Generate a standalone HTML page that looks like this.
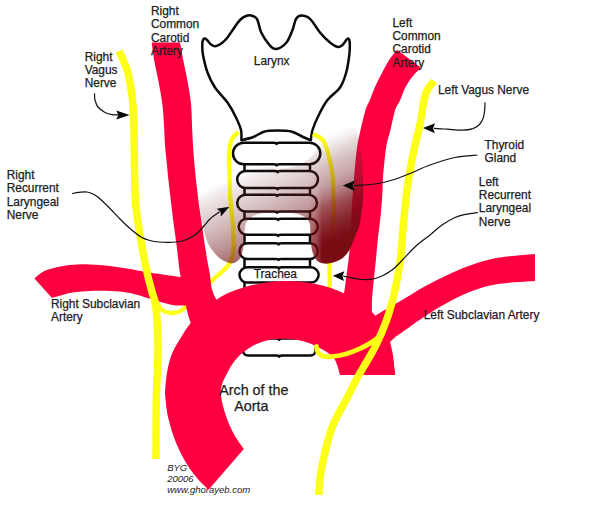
<!DOCTYPE html>
<html><head><meta charset="utf-8"><title>Recurrent laryngeal nerve anatomy</title>
<style>html,body{margin:0;padding:0;background:#fff}svg{display:block}</style></head>
<body><svg width="600" height="519" viewBox="0 0 600 519">
<defs>
<linearGradient id="tg" gradientUnits="userSpaceOnUse" x1="230" y1="178.5" x2="270.8" y2="269.1">
<stop offset="0.000" stop-color="#70262a" stop-opacity="0.00"/>
<stop offset="0.073" stop-color="#70262a" stop-opacity="0.08"/>
<stop offset="0.211" stop-color="#70262a" stop-opacity="0.18"/>
<stop offset="0.349" stop-color="#712227" stop-opacity="0.27"/>
<stop offset="0.495" stop-color="#731e23" stop-opacity="0.38"/>
<stop offset="0.642" stop-color="#75191f" stop-opacity="0.50"/>
<stop offset="0.789" stop-color="#771219" stop-opacity="0.66"/>
<stop offset="0.945" stop-color="#7a0c14" stop-opacity="0.80"/>
<stop offset="1.000" stop-color="#7a0c14" stop-opacity="0.85"/>
</linearGradient>
<linearGradient id="tg2" gradientUnits="userSpaceOnUse" x1="230" y1="178.5" x2="270.8" y2="269.1">
<stop offset="0.000" stop-color="#70262a" stop-opacity="0.00"/>
<stop offset="0.083" stop-color="#70262a" stop-opacity="0.07"/>
<stop offset="0.193" stop-color="#70262a" stop-opacity="0.20"/>
<stop offset="0.294" stop-color="#712126" stop-opacity="0.30"/>
<stop offset="0.404" stop-color="#731e23" stop-opacity="0.38"/>
<stop offset="0.477" stop-color="#741b20" stop-opacity="0.45"/>
<stop offset="0.560" stop-color="#76151c" stop-opacity="0.57"/>
<stop offset="0.642" stop-color="#781017" stop-opacity="0.70"/>
<stop offset="0.734" stop-color="#7a0c14" stop-opacity="0.80"/>
<stop offset="0.826" stop-color="#7a0c14" stop-opacity="0.88"/>
<stop offset="0.917" stop-color="#7a0c14" stop-opacity="0.95"/>
<stop offset="1.000" stop-color="#7a0c14" stop-opacity="1.00"/>
</linearGradient>
<linearGradient id="ml" gradientUnits="userSpaceOnUse" x1="300" y1="0" x2="322" y2="0"><stop offset="0" stop-color="#fff"/><stop offset="1" stop-color="#000"/></linearGradient>
<linearGradient id="mr" gradientUnits="userSpaceOnUse" x1="300" y1="0" x2="322" y2="0"><stop offset="0" stop-color="#000"/><stop offset="1" stop-color="#fff"/></linearGradient>
<mask id="cl" maskUnits="userSpaceOnUse" x="150" y="100" width="260" height="200"><rect x="150" y="100" width="260" height="200" fill="url(#ml)"/></mask>
<mask id="cr" maskUnits="userSpaceOnUse" x="150" y="100" width="260" height="200"><rect x="150" y="100" width="260" height="200" fill="url(#mr)"/></mask>
</defs>
<rect width="600" height="519" fill="#fff"/>
<g font-family="'Liberation Sans', Arial, sans-serif" fill="#1c1c1c"><text x="167.2" y="471.4" font-size="9.5" font-style="italic">BYG</text><text x="167.2" y="482.0" font-size="9.5" font-style="italic">20006</text><text x="167.2" y="492.5" font-size="9.5" font-style="italic">www.ghorayeb.com</text></g>
<g fill="#fff" stroke="#0a0a0a" stroke-width="2.5" stroke-linejoin="round" stroke-linecap="round">
<g fill="none"><path d="M244.5 164.2V171.0M310 164.2V171.0"/><path d="M244.5 188.0V194.7M310 188.0V194.7"/><path d="M244.5 211.5V218.7M310 211.5V218.7"/><path d="M244.5 234.8V243.2M310 234.8V243.2"/><path d="M244.5 258.9V267.3M310 258.9V267.3"/><path d="M244.5 282.6V300.0M310 282.6V300.0"/><path d="M244.5 325.0V338.5M310 325.0V338.5"/></g>
<path d="M243.7 142.8L273.6 142.8Q276.6 142.8 276.6 144.0Q276.6 142.8 279.6 142.8L309.6 142.8C315.5 142.8 320.3 147.6 320.3 153.5L320.3 153.5C320.3 159.4 315.5 164.2 309.6 164.2L279.6 164.2Q276.6 164.2 276.6 165.4Q276.6 164.2 273.6 164.2L243.7 164.2C237.8 164.2 233.0 159.4 233.0 153.5L233.0 153.5C233.0 147.6 237.8 142.8 243.7 142.8Z"/><path d="M245.7 171.0L274.6 171.0Q277.6 171.0 277.6 172.2Q277.6 171.0 280.6 171.0L309.5 171.0C314.2 171.0 318.0 174.8 318.0 179.5L318.0 179.5C318.0 184.2 314.2 188.0 309.5 188.0L280.6 188.0Q277.6 188.0 277.6 189.2Q277.6 188.0 274.6 188.0L245.7 188.0C241.0 188.0 237.2 184.2 237.2 179.5L237.2 179.5C237.2 174.8 241.0 171.0 245.7 171.0Z"/><path d="M245.6 194.7L274.1 194.7Q277.1 194.7 277.1 195.9Q277.1 194.7 280.1 194.7L308.6 194.7C313.2 194.7 317.0 198.5 317.0 203.1L317.0 203.1C317.0 207.7 313.2 211.5 308.6 211.5L280.1 211.5Q277.1 211.5 277.1 212.7Q277.1 211.5 274.1 211.5L245.6 211.5C241.0 211.5 237.2 207.7 237.2 203.1L237.2 203.1C237.2 198.5 241.0 194.7 245.6 194.7Z"/><path d="M246.8 218.7L275.2 218.7Q278.2 218.7 278.2 219.9Q278.2 218.7 281.2 218.7L309.8 218.7C314.2 218.7 317.8 222.3 317.8 226.8L317.8 226.8C317.8 231.2 314.2 234.8 309.8 234.8L281.2 234.8Q278.2 234.8 278.2 236.0Q278.2 234.8 275.2 234.8L246.8 234.8C242.3 234.8 238.7 231.2 238.7 226.8L238.7 226.8C238.7 222.3 242.3 218.7 246.8 218.7Z"/><path d="M247.3 243.2L275.6 243.2Q278.6 243.2 278.6 244.4Q278.6 243.2 281.6 243.2L310.0 243.2C314.3 243.2 317.8 246.7 317.8 251.0L317.8 251.0C317.8 255.4 314.3 258.9 310.0 258.9L281.6 258.9Q278.6 258.9 278.6 260.1Q278.6 258.9 275.6 258.9L247.3 258.9C243.0 258.9 239.5 255.4 239.5 251.0L239.5 251.0C239.5 246.7 243.0 243.2 247.3 243.2Z"/><path d="M247.2 267.3L276.1 267.3Q279.1 267.3 279.1 268.5Q279.1 267.3 282.1 267.3L311.0 267.3C315.2 267.3 318.6 270.7 318.6 275.0L318.6 275.0C318.6 279.2 315.2 282.6 311.0 282.6L282.1 282.6Q279.1 282.6 279.1 283.8Q279.1 282.6 276.1 282.6L247.2 282.6C242.9 282.6 239.5 279.2 239.5 275.0L239.5 275.0C239.5 270.7 242.9 267.3 247.2 267.3Z"/><path d="M248.0 338.5L276.2 338.5Q279.2 338.5 279.2 339.7Q279.2 338.5 282.2 338.5L310.5 338.5C313.3 338.5 315.5 340.7 315.5 343.5L315.5 350.6C315.5 353.4 313.3 355.6 310.5 355.6L282.2 355.6Q279.2 355.6 279.2 356.8Q279.2 355.6 276.2 355.6L248.0 355.6C245.2 355.6 243.0 353.4 243.0 350.6L243.0 343.5C243.0 340.7 245.2 338.5 248.0 338.5Z"/>
<path d="M241.4 140.3C241.3 138.6 241.9 133.8 241.0 130.0C240.1 126.2 238.2 122.1 236.0 117.5C233.8 112.9 231.0 107.5 227.5 102.5C224.0 97.5 218.3 92.5 215.0 87.5C211.7 82.5 209.5 77.9 207.5 72.5C205.5 67.1 203.9 59.6 203.0 55.0C202.1 50.4 202.3 47.5 202.3 45.0C202.3 42.5 202.6 41.1 203.0 40.0C203.4 38.9 204.2 38.5 205.0 38.6C205.8 38.7 206.5 39.5 207.5 40.5C208.5 41.5 209.7 43.5 211.0 44.5C212.3 45.5 213.7 46.5 215.5 46.3C217.3 46.0 220.0 44.5 222.0 43.0C224.0 41.5 225.5 40.0 227.5 37.5C229.5 35.0 231.9 30.9 234.0 28.0C236.1 25.1 238.0 22.0 240.0 20.0C242.0 18.0 244.1 16.8 246.0 16.0C247.9 15.2 249.4 15.0 251.2 15.5C253.1 16.0 255.3 16.2 257.0 19.0C258.7 21.8 259.2 28.2 261.2 32.5C263.3 36.8 267.0 42.2 269.5 45.0C272.0 47.8 273.4 49.4 276.2 49.0C279.1 48.6 283.8 45.7 286.5 42.5C289.2 39.3 290.9 33.9 292.5 30.0C294.1 26.1 294.5 21.4 296.0 19.0C297.5 16.6 298.9 15.5 301.2 15.5C303.6 15.5 306.9 15.9 310.0 18.8C313.1 21.6 316.7 28.5 320.0 32.5C323.3 36.5 327.0 40.1 330.0 42.5C333.0 44.9 335.9 46.6 338.0 47.0C340.1 47.4 341.2 46.0 342.5 45.0C343.8 44.0 344.7 42.1 345.5 41.0C346.3 39.9 346.9 38.8 347.5 38.6C348.1 38.4 348.9 38.9 349.3 40.0C349.7 41.1 349.8 42.5 349.8 45.0C349.8 47.5 349.9 50.4 349.3 55.0C348.7 59.6 347.8 67.1 346.2 72.5C344.7 77.9 343.1 82.9 340.0 87.5C336.9 92.1 331.0 95.4 327.5 100.0C324.0 104.6 321.2 110.0 318.8 115.0C316.2 120.0 313.8 125.8 312.5 130.0C311.2 134.2 311.1 138.6 310.8 140.3L310.8 140.3C309.5 139.8 306.1 138.4 303.0 137.0C299.9 135.6 296.3 132.8 292.0 131.7C287.7 130.6 281.7 130.6 277.0 130.6C272.3 130.6 267.9 130.6 264.0 131.7C260.1 132.8 257.1 135.6 253.3 137.0C249.5 138.4 243.4 139.8 241.4 140.3Z"/>
</g>
<g fill="none" stroke="#fdff16" stroke-width="4.4">
<path d="M156.0 298.0C156.3 299.0 156.9 301.9 158.0 304.0C159.1 306.1 160.1 309.0 162.5 310.5C164.9 312.0 169.2 313.1 172.5 313.0C175.8 312.9 179.6 311.8 182.5 310.0C185.4 308.2 186.8 305.0 190.0 302.0C193.2 299.0 197.8 295.6 201.5 292.0C205.2 288.4 209.1 283.5 212.5 280.2C215.9 276.9 219.1 274.5 221.8 272.0C224.5 269.5 226.8 267.5 228.5 265.0C230.2 262.5 231.5 259.8 232.3 257.0C233.1 254.2 233.4 253.2 233.5 248.0C233.6 242.8 233.4 232.7 233.0 226.0C232.6 219.3 231.5 214.0 231.0 208.0C230.5 202.0 230.2 195.5 230.0 190.0C229.8 184.5 229.7 181.2 229.5 175.0C229.3 168.8 228.6 159.0 229.0 153.0C229.4 147.0 230.4 142.5 232.0 139.0C233.6 135.5 237.4 133.2 238.5 132.0"/>
<path d="M316.5 346.5C317.4 342.1 319.8 329.4 322.0 320.0C324.2 310.6 328.2 299.5 329.5 290.0C330.8 280.5 328.8 274.7 329.5 263.0C330.2 251.3 332.8 231.1 333.5 220.0C334.2 208.9 333.7 204.2 333.5 196.7C333.3 189.2 333.3 182.3 332.4 175.0C331.5 167.7 329.6 158.8 328.0 153.0C326.4 147.2 325.2 143.2 322.7 140.0C320.2 136.8 314.6 135.0 313.0 134.0" stroke-width="4.2"/>
</g>
<g fill="#fe0040">
<path d="M208.6 489.8C206.8 488.0 201.3 483.1 197.7 478.8C194.0 474.5 190.4 470.1 186.7 464.0C183.0 457.9 178.8 449.6 175.7 442.0C172.6 434.4 170.0 425.3 168.3 418.3C166.6 411.3 166.1 404.9 165.6 400.0C165.1 395.1 164.9 394.0 165.2 389.0C165.5 384.0 166.3 376.1 167.5 370.0C168.7 363.9 170.0 358.3 172.5 352.5C175.0 346.7 179.4 340.0 182.5 335.0C185.6 330.0 187.4 327.0 191.0 322.5C194.6 318.0 199.8 311.8 204.0 308.0C208.2 304.2 212.1 302.4 216.0 300.0C219.9 297.6 222.7 295.5 227.5 293.3C232.3 291.1 238.8 288.8 245.0 287.0C251.2 285.2 258.3 283.7 265.0 282.7C271.7 281.7 278.3 281.1 285.0 281.0C291.7 280.9 298.3 281.4 305.0 282.3C311.7 283.2 318.8 284.6 325.0 286.3C331.2 288.1 335.7 289.5 342.5 292.8C349.3 296.1 359.1 300.1 366.0 306.0C372.9 311.9 379.7 320.7 384.0 328.0C388.3 335.3 390.2 342.2 392.0 350.0C393.8 357.8 394.5 370.8 395.0 375.0L340.0 375.0C339.2 372.5 337.5 364.0 335.0 360.0C332.5 356.0 329.6 353.9 325.0 351.0C320.4 348.1 313.3 344.5 307.5 342.5C301.7 340.5 296.2 339.4 290.0 339.0C283.8 338.6 276.2 338.6 270.0 339.8C263.8 341.0 257.9 343.1 252.5 346.0C247.1 348.9 241.7 353.1 237.5 357.5C233.3 361.9 230.2 367.2 227.5 372.5C224.8 377.8 221.6 382.9 221.0 389.0C220.4 395.1 221.8 401.9 223.8 409.0C225.7 416.1 229.2 424.8 232.5 431.5C235.8 438.2 241.9 446.1 243.8 449.0Z"/>
<path d="M151.7 42.5C152.1 45.6 153.2 54.5 154.4 61.2C155.6 67.9 157.4 75.4 158.7 82.5C160.0 89.6 161.4 96.6 162.3 103.7C163.2 110.8 163.6 118.1 164.0 125.0C164.4 131.9 164.6 139.0 165.0 145.0C165.4 151.0 166.0 154.9 166.6 161.2C167.2 167.4 167.9 175.4 168.7 182.5C169.5 189.6 170.3 196.6 171.2 203.7C172.0 210.8 172.8 217.3 173.8 225.0C174.8 232.7 176.1 241.5 177.2 250.0C178.3 258.5 178.5 264.7 180.5 276.0C182.5 287.3 185.8 307.3 189.0 318.0C192.2 328.7 198.2 336.3 200.0 340.0L240.0 330.0C235.8 324.5 220.1 306.7 215.0 297.0C209.9 287.3 211.1 279.8 209.5 272.0C207.9 264.2 206.8 257.8 205.6 250.0C204.3 242.2 203.1 232.7 202.0 225.0C200.9 217.3 199.8 210.8 198.8 203.7C197.9 196.6 197.1 189.6 196.3 182.5C195.5 175.4 194.8 167.4 194.2 161.2C193.6 154.9 193.4 151.0 193.0 145.0C192.6 139.0 192.3 131.9 192.0 125.0C191.7 118.1 191.7 110.8 191.0 103.7C190.3 96.6 189.1 89.6 187.8 82.5C186.6 75.4 184.8 67.9 183.5 61.2C182.2 54.5 180.6 45.6 180.0 42.5Z"/>
<path d="M34.4 278.6C35.5 277.7 38.4 274.6 41.0 273.0C43.6 271.4 45.2 270.3 50.0 269.0C54.8 267.7 63.3 265.8 70.0 265.0C76.7 264.2 83.3 264.2 90.0 264.4C96.7 264.6 103.3 265.2 110.0 266.0C116.7 266.8 124.0 268.0 130.0 269.0C136.0 270.0 137.7 270.7 146.0 272.0C154.3 273.3 171.0 275.7 180.0 277.0C189.0 278.3 196.7 279.5 200.0 280.0L200.0 312.0C197.9 311.0 192.1 307.2 187.5 306.0C182.9 304.8 178.8 306.2 172.5 305.0C166.2 303.8 157.1 300.7 150.0 298.7C142.9 296.7 136.7 294.3 130.0 293.0C123.3 291.7 116.7 291.3 110.0 291.0C103.3 290.7 96.7 290.7 90.0 291.0C83.3 291.3 76.3 291.8 70.0 293.0C63.7 294.2 55.0 297.2 52.0 298.0Z"/>
<path d="M397.0 49.8C395.7 51.5 391.7 56.0 389.1 60.0C386.6 64.0 384.1 69.0 381.7 73.5C379.3 78.0 377.0 82.5 375.0 87.0C373.0 91.5 371.2 96.7 369.6 100.5C368.0 104.3 367.0 105.1 365.5 110.0C364.0 114.9 361.8 124.2 360.5 130.0C359.2 135.8 358.4 139.4 357.5 144.7C356.6 150.0 356.0 156.2 355.4 162.0C354.8 167.8 354.5 173.0 354.0 179.3C353.5 185.6 352.8 192.4 352.3 200.0C351.8 207.6 351.4 217.0 351.0 225.0C350.6 233.0 350.4 240.6 349.8 248.0C349.2 255.4 348.2 262.2 347.3 269.3C346.4 276.4 345.2 286.1 344.5 290.5C343.8 294.9 343.8 291.1 343.0 296.0C342.2 300.9 340.5 316.0 340.0 320.0L372.0 320.0C372.0 316.8 371.7 307.7 372.0 301.0C372.3 294.3 373.1 287.1 373.8 280.0C374.5 272.9 375.3 265.8 376.0 258.7C376.7 251.6 377.2 244.6 378.0 237.5C378.8 230.4 379.9 223.1 380.6 216.0C381.3 208.9 381.9 201.1 382.3 195.0C382.7 188.9 382.5 184.8 382.9 179.3C383.2 173.8 383.8 167.8 384.4 162.0C385.0 156.2 385.6 150.0 386.6 144.7C387.6 139.4 389.0 135.8 390.4 130.0C391.8 124.2 393.6 114.9 395.2 110.0C396.8 105.1 398.3 104.3 400.0 100.5C401.7 96.7 403.3 91.2 405.5 87.0C407.7 82.8 410.8 78.7 413.4 75.5C416.0 72.3 419.7 69.1 421.0 67.8Z"/>
<path d="M535.0 254.0C529.2 254.6 510.0 255.9 500.0 257.5C490.0 259.1 483.3 261.0 475.0 263.8C466.7 266.5 458.3 270.0 450.0 273.8C441.7 277.5 433.3 281.7 425.0 286.2C416.7 290.8 408.3 296.3 400.0 301.2C391.7 306.2 381.7 311.2 375.0 316.0C368.3 320.8 362.5 327.7 360.0 330.0L395.4 375.0C395.0 372.5 393.8 364.6 393.0 360.0C392.2 355.4 391.3 350.5 390.8 347.5C390.3 344.5 390.1 342.9 390.0 342.0L390.0 342.0C390.8 341.3 392.8 339.2 394.5 337.8C396.2 336.4 394.9 337.3 400.0 333.8C405.1 330.2 416.7 321.7 425.0 316.2C433.3 310.8 441.7 305.6 450.0 301.2C458.3 296.9 466.7 292.9 475.0 290.0C483.3 287.1 490.0 285.2 500.0 283.8C510.0 282.2 529.2 281.5 535.0 281.0Z"/>
</g>
<g fill="none" stroke="#fdff16">
<path d="M379.0 337.0C377.8 337.8 375.1 340.1 372.0 342.0C368.9 343.9 364.9 346.4 360.5 348.4C356.1 350.4 350.7 352.6 345.8 354.0C340.9 355.4 335.2 356.4 331.2 356.7C327.2 357.0 324.3 356.7 322.0 355.8C319.7 354.9 318.5 353.1 317.6 351.5C316.7 349.9 316.7 347.3 316.5 346.5" stroke-width="4.8" stroke-linecap="round"/>
<path d="M119.0 51.0C119.8 52.8 122.4 58.0 124.0 62.0C125.6 66.0 127.1 68.7 128.5 75.0C129.9 81.3 131.6 90.8 132.5 100.0C133.4 109.2 133.6 114.7 134.0 130.0C134.4 145.3 134.5 177.8 135.0 192.0C135.5 206.2 136.2 207.8 137.0 215.0C137.8 222.2 139.0 229.0 140.0 235.0C141.0 241.0 141.5 244.3 142.8 251.0C144.1 257.7 146.1 268.2 147.6 275.0C149.1 281.8 150.6 286.6 152.0 292.0C153.4 297.4 155.0 297.8 156.0 307.5C157.0 317.2 157.9 334.6 158.0 350.0C158.1 365.4 156.6 381.8 156.3 400.0C156.0 418.2 156.1 449.2 156.0 459.0" stroke-width="7.5"/>
<path d="M434.0 81.0C433.1 82.2 429.9 85.7 428.5 88.0C427.1 90.3 426.2 91.8 425.3 95.0C424.4 98.2 423.6 102.8 422.8 107.0C422.1 111.2 421.6 115.8 420.8 120.0C420.1 124.2 419.3 127.8 418.3 132.0C417.3 136.2 416.3 139.0 415.0 145.0C413.7 151.0 411.8 160.5 410.5 168.0C409.2 175.5 408.3 179.7 407.0 190.0C405.7 200.3 403.9 219.5 402.9 230.0C401.9 240.5 402.1 245.3 401.2 253.0C400.3 260.7 399.1 268.3 397.7 276.0C396.3 283.7 394.9 291.3 392.9 299.0C390.9 306.7 388.8 314.2 385.9 322.0C383.0 329.8 379.0 338.8 375.8 345.5C372.6 352.2 369.6 356.7 366.5 362.0C363.4 367.3 360.9 371.2 357.5 377.5C354.1 383.8 350.1 392.1 346.0 400.0C341.9 407.9 336.4 416.7 333.0 425.0C329.6 433.3 327.6 441.7 325.5 450.0C323.4 458.3 321.6 467.5 320.5 475.0C319.4 482.5 319.0 491.7 318.8 495.0" stroke-width="7.5"/>
</g>
<path d="M214.0 127.0C212.8 128.7 209.0 133.2 207.0 137.0C205.0 140.8 203.2 144.5 202.0 150.0C200.8 155.5 200.1 163.3 199.5 170.0C198.9 176.7 198.5 184.2 198.5 190.0C198.5 195.8 199.0 200.1 199.5 205.0C200.0 209.9 200.5 213.9 201.6 219.4C202.7 224.9 204.7 233.6 206.0 238.0C207.3 242.4 208.1 243.5 209.5 246.0C210.9 248.5 212.8 250.9 214.5 253.0C216.2 255.1 218.0 257.0 220.0 258.5C222.0 260.0 224.3 261.2 226.5 262.0C228.7 262.8 230.8 263.8 233.0 263.3C235.2 262.8 238.1 261.0 239.8 258.8C241.5 256.6 242.3 253.1 243.0 250.0C243.7 246.9 243.8 243.0 244.0 240.0C244.2 237.0 244.4 233.3 244.5 232.0L244.5 232.0C244.7 230.8 244.9 227.0 245.5 225.0C246.1 223.0 246.8 221.5 248.0 220.0C249.2 218.5 250.7 217.1 253.0 216.0C255.3 214.9 257.8 213.8 262.0 213.2C266.2 212.6 272.7 212.3 278.0 212.3C283.3 212.3 289.8 212.6 294.0 213.2C298.2 213.8 300.7 214.9 303.0 216.0C305.3 217.1 306.8 218.5 308.0 220.0C309.2 221.5 309.6 223.0 310.0 225.0C310.4 227.0 310.4 230.8 310.5 232.0L310.5 232.0C310.6 233.3 310.8 237.0 311.0 240.0C311.2 243.0 311.4 247.2 312.0 250.0C312.6 252.8 313.5 255.1 314.5 257.0C315.5 258.9 316.4 260.4 318.0 261.5C319.6 262.6 321.8 263.2 324.0 263.5C326.2 263.8 328.4 263.6 331.0 263.0C333.6 262.4 337.4 261.2 339.9 259.8C342.4 258.4 344.4 256.4 346.2 254.4C348.0 252.4 349.1 250.8 350.5 248.0C351.9 245.2 353.3 241.0 354.7 237.5C356.1 234.0 357.9 230.4 359.0 226.8C360.1 223.2 360.4 219.6 361.0 216.0C361.6 212.4 362.1 208.5 362.5 205.0C362.9 201.5 363.1 199.2 363.2 195.0C363.3 190.8 363.1 185.0 363.0 180.0C362.9 175.0 363.0 170.7 362.5 165.0C362.0 159.3 361.1 151.7 360.0 146.0C358.9 140.3 357.7 134.2 356.0 131.0C354.3 127.8 352.7 127.5 350.0 126.5C347.3 125.5 343.7 125.1 340.0 125.0C336.3 124.9 331.0 125.0 328.0 126.0C325.0 127.0 323.4 128.7 322.0 131.0C320.6 133.3 320.3 137.0 319.5 140.0C318.7 143.0 318.4 146.2 317.0 149.0C315.6 151.8 313.7 154.5 311.0 157.0C308.3 159.5 304.5 162.2 301.0 164.0C297.5 165.8 293.8 166.8 290.0 167.5C286.2 168.2 282.7 168.9 278.0 168.5C273.3 168.1 267.5 167.8 262.0 165.0C256.5 162.2 250.0 156.5 245.0 152.0C240.0 147.5 235.8 141.8 232.0 138.0C228.2 134.2 225.0 130.8 222.0 129.0C219.0 127.2 215.3 127.3 214.0 127.0Z" fill="url(#tg)" mask="url(#cl)"/><path d="M214.0 127.0C212.8 128.7 209.0 133.2 207.0 137.0C205.0 140.8 203.2 144.5 202.0 150.0C200.8 155.5 200.1 163.3 199.5 170.0C198.9 176.7 198.5 184.2 198.5 190.0C198.5 195.8 199.0 200.1 199.5 205.0C200.0 209.9 200.5 213.9 201.6 219.4C202.7 224.9 204.7 233.6 206.0 238.0C207.3 242.4 208.1 243.5 209.5 246.0C210.9 248.5 212.8 250.9 214.5 253.0C216.2 255.1 218.0 257.0 220.0 258.5C222.0 260.0 224.3 261.2 226.5 262.0C228.7 262.8 230.8 263.8 233.0 263.3C235.2 262.8 238.1 261.0 239.8 258.8C241.5 256.6 242.3 253.1 243.0 250.0C243.7 246.9 243.8 243.0 244.0 240.0C244.2 237.0 244.4 233.3 244.5 232.0L244.5 232.0C244.7 230.8 244.9 227.0 245.5 225.0C246.1 223.0 246.8 221.5 248.0 220.0C249.2 218.5 250.7 217.1 253.0 216.0C255.3 214.9 257.8 213.8 262.0 213.2C266.2 212.6 272.7 212.3 278.0 212.3C283.3 212.3 289.8 212.6 294.0 213.2C298.2 213.8 300.7 214.9 303.0 216.0C305.3 217.1 306.8 218.5 308.0 220.0C309.2 221.5 309.6 223.0 310.0 225.0C310.4 227.0 310.4 230.8 310.5 232.0L310.5 232.0C310.6 233.3 310.8 237.0 311.0 240.0C311.2 243.0 311.4 247.2 312.0 250.0C312.6 252.8 313.5 255.1 314.5 257.0C315.5 258.9 316.4 260.4 318.0 261.5C319.6 262.6 321.8 263.2 324.0 263.5C326.2 263.8 328.4 263.6 331.0 263.0C333.6 262.4 337.4 261.2 339.9 259.8C342.4 258.4 344.4 256.4 346.2 254.4C348.0 252.4 349.1 250.8 350.5 248.0C351.9 245.2 353.3 241.0 354.7 237.5C356.1 234.0 357.9 230.4 359.0 226.8C360.1 223.2 360.4 219.6 361.0 216.0C361.6 212.4 362.1 208.5 362.5 205.0C362.9 201.5 363.1 199.2 363.2 195.0C363.3 190.8 363.1 185.0 363.0 180.0C362.9 175.0 363.0 170.7 362.5 165.0C362.0 159.3 361.1 151.7 360.0 146.0C358.9 140.3 357.7 134.2 356.0 131.0C354.3 127.8 352.7 127.5 350.0 126.5C347.3 125.5 343.7 125.1 340.0 125.0C336.3 124.9 331.0 125.0 328.0 126.0C325.0 127.0 323.4 128.7 322.0 131.0C320.6 133.3 320.3 137.0 319.5 140.0C318.7 143.0 318.4 146.2 317.0 149.0C315.6 151.8 313.7 154.5 311.0 157.0C308.3 159.5 304.5 162.2 301.0 164.0C297.5 165.8 293.8 166.8 290.0 167.5C286.2 168.2 282.7 168.9 278.0 168.5C273.3 168.1 267.5 167.8 262.0 165.0C256.5 162.2 250.0 156.5 245.0 152.0C240.0 147.5 235.8 141.8 232.0 138.0C228.2 134.2 225.0 130.8 222.0 129.0C219.0 127.2 215.3 127.3 214.0 127.0Z" fill="url(#tg2)" mask="url(#cr)"/>
<g fill="none" stroke="#111" stroke-width="1.2"><path d="M94.5 93.3C94.6 94.4 94.4 97.7 95.0 100.0C95.6 102.3 96.3 104.9 98.0 107.0C99.7 109.1 102.7 111.2 105.0 112.5C107.3 113.8 109.5 114.2 112.0 114.6C114.5 115.0 118.7 114.9 120.0 115.0"/><path d="M72.0 193.5C73.2 193.3 76.5 192.6 79.0 192.3C81.5 192.1 84.7 191.7 87.0 192.0C89.3 192.3 91.0 193.0 93.0 194.0C95.0 195.0 96.2 195.6 99.0 198.0C101.8 200.4 106.5 205.0 110.0 208.5C113.5 212.0 116.7 215.7 120.0 219.0C123.3 222.3 126.5 225.5 130.0 228.5C133.5 231.5 137.7 235.0 141.0 237.0C144.3 239.0 147.0 239.7 150.0 240.5C153.0 241.3 155.7 241.7 159.0 242.0C162.3 242.3 166.5 242.4 170.0 242.3C173.5 242.2 176.7 242.2 180.0 241.5C183.3 240.8 187.0 239.5 190.0 238.0C193.0 236.5 195.7 234.5 198.0 232.5C200.3 230.5 202.0 228.2 204.0 226.0C206.0 223.8 207.4 221.4 210.0 219.0C212.6 216.6 217.9 213.0 219.5 211.8"/><path d="M485.0 102.5C484.9 103.8 485.0 107.4 484.7 110.0C484.4 112.6 484.1 115.6 483.2 118.0C482.3 120.4 481.2 122.7 479.5 124.5C477.8 126.3 475.8 127.6 473.0 128.6C470.2 129.5 466.8 130.1 462.5 130.2C458.2 130.3 452.2 129.5 447.5 129.2C442.8 128.9 436.2 128.5 434.0 128.3"/><path d="M477.5 155.0C473.8 155.4 462.9 155.8 455.0 157.5C447.1 159.2 437.5 162.3 430.0 165.0C422.5 167.7 416.2 171.0 410.0 173.5C403.8 176.0 398.3 178.2 392.5 180.0C386.7 181.8 381.4 183.1 375.0 184.0C368.6 184.9 357.5 185.4 354.0 185.7"/><path d="M478.0 212.5C476.0 212.8 469.8 213.5 466.0 214.3C462.2 215.1 459.0 215.7 455.0 217.5C451.0 219.3 446.2 222.1 442.0 225.0C437.8 227.9 434.2 231.6 430.0 235.0C425.8 238.4 420.7 241.7 416.5 245.5C412.3 249.3 408.5 253.7 404.6 257.7C400.7 261.7 396.9 266.2 393.0 269.3C389.1 272.4 385.3 274.5 381.5 276.2C377.7 277.9 373.8 278.9 370.0 279.4C366.2 279.9 362.3 279.5 359.0 279.2C355.7 278.9 352.7 278.0 350.0 277.5C347.3 277.0 344.2 276.2 343.0 276.0"/></g>
<g fill="#0a0a0a"><path d="M129.6 115.0 L116.3 119.5 L118.4 115.0 L116.3 110.5 Z"/><path d="M229.4 206.7 L220.9 216.4 L220.5 211.7 L216.7 208.8 Z"/><path d="M423.0 128.0 L435.1 123.2 L433.1 128.2 L434.9 133.2 Z"/><path d="M342.8 185.6 L354.9 180.5 L352.9 185.8 L354.7 191.1 Z"/><path d="M332.8 275.7 L344.4 271.3 L342.4 276.1 L344.0 281.1 Z"/></g>
<g font-family="'Liberation Sans', Arial, sans-serif" fill="#1c1c1c" stroke="#1c1c1c" stroke-width="0.25"><text x="151.0" y="14.8" font-size="11.9" >Right</text><text x="151.0" y="28.1" font-size="11.9" >Common</text><text x="151.0" y="41.5" font-size="11.9" >Carotid</text><text x="151.0" y="54.8" font-size="11.9" >Artery</text><text x="84.7" y="60.5" font-size="11.9" >Right</text><text x="84.7" y="73.8" font-size="11.9" >Vagus</text><text x="84.7" y="87.2" font-size="11.9" >Nerve</text><text x="6.7" y="178.9" font-size="11.9" >Right</text><text x="6.7" y="192.2" font-size="11.9" >Recurrent</text><text x="6.7" y="205.6" font-size="11.9" >Laryngeal</text><text x="6.7" y="218.9" font-size="11.9" >Nerve</text><text x="51.0" y="307.5" font-size="11.9" >Right Subclavian</text><text x="51.0" y="320.8" font-size="11.9" >Artery</text><text x="392.5" y="26.6" font-size="11.9" >Left</text><text x="392.5" y="40.0" font-size="11.9" >Common</text><text x="392.5" y="53.3" font-size="11.9" >Carotid</text><text x="392.5" y="66.6" font-size="11.9" >Artery</text><text x="438.0" y="94.4" font-size="11.9" >Left Vagus Nerve</text><text x="484.5" y="148.8" font-size="11.9" >Thyroid</text><text x="484.5" y="162.1" font-size="11.9" >Gland</text><text x="478.8" y="185.5" font-size="11.9" >Left</text><text x="478.8" y="198.8" font-size="11.9" >Recurrent</text><text x="478.8" y="212.2" font-size="11.9" >Laryngeal</text><text x="478.8" y="225.5" font-size="11.9" >Nerve</text><text x="423.7" y="318.8" font-size="11.9" >Left Subclavian Artery</text><text x="253.8" y="65.0" font-size="11.9" >Larynx</text><text x="253.8" y="277.7" font-size="11.9" >Trachea</text><text x="219.2" y="395.0" font-size="14.3" >Arch of the</text><text x="234.3" y="411.3" font-size="14.3" >Aorta</text></g>
</svg></body></html>
